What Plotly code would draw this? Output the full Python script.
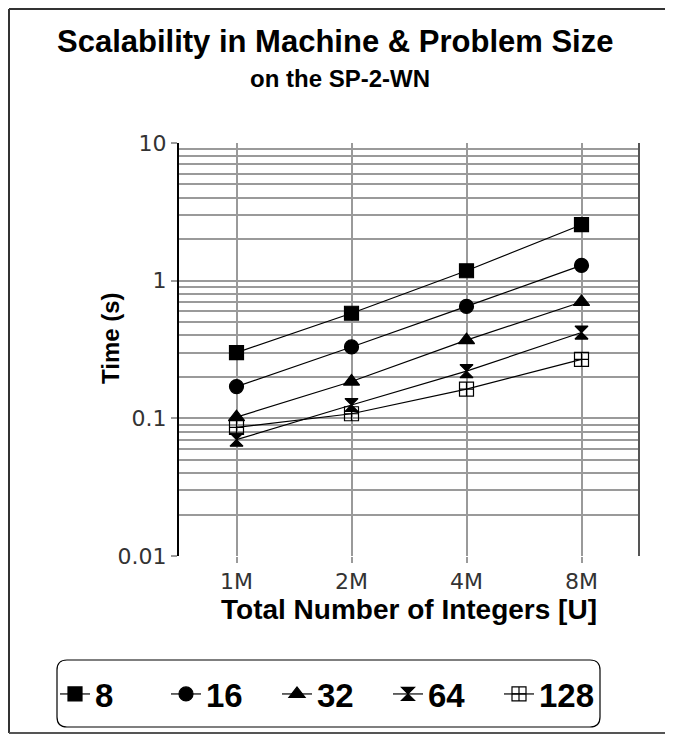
import plotly.graph_objects as go

categories = ["1M", "2M", "4M", "8M"]
series_names = ["8", "16", "32", "64", "128"]
t8 = [0.30, 0.58, 1.18, 2.55]
t16 = [0.17, 0.33, 0.65, 1.29]
t32 = [0.102, 0.185, 0.37, 0.70]
t64 = [0.070, 0.125, 0.22, 0.42]
t128 = [0.086, 0.108, 0.163, 0.268]
series_values = [t8, t16, t32, t64, t128]
symbols = ["square", "circle", "triangle-up", "hourglass", "square-cross-open"]
sizes = [14, 14, 14, 13, 14]
y_ticks = [0.01, 0.1, 1, 10]
y_tick_labels = ["0.01", "0.1", "1", "10"]

OFF = 8  # page body margin
W, H = 673 - OFF, 736 - OFF
L, R, T, B = 179, 639, 143, 556  # plot area in page pixels
FONT = "Liberation Sans, Arial, sans-serif"
TICKFONT = "DejaVu Sans, Liberation Sans, sans-serif"


def px(x):
    return (x - L) / (R - L)


def py(y):
    return (B - y) / (B - T)


fig = go.Figure()
for name, vals, sym, sz in zip(series_names, series_values, symbols, sizes):
    fig.add_trace(go.Scatter(
        x=categories, y=vals, name=name, mode="lines+markers",
        line=dict(color="black", width=1.2),
        marker=dict(symbol=sym, size=sz, color="black",
                    line=dict(color="black", width=1.2)),
    ))

minor_vals = []
for base in [0.01, 0.1, 1]:
    for k in range(2, 10):
        minor_vals.append(round(base * k, 4))

fig.update_layout(
    width=W, height=H,
    margin=dict(l=L - OFF, r=673 - R, t=T - OFF, b=736 - B),
    paper_bgcolor="white", plot_bgcolor="white",
    font=dict(family=FONT, color="black"),
    showlegend=True,
    legend=dict(
        orientation="h", x=px(55), y=py(694), xanchor="left", yanchor="middle",
        font=dict(family=FONT, size=33, color="black", weight="bold"),
        bgcolor="rgba(0,0,0,0)", borderwidth=0,
        tracegroupgap=0, entrywidth=66,
    ),
    xaxis=dict(
        type="category", range=[-0.5, 3.5],
        showgrid=True, gridcolor="#9a9a9a", gridwidth=1.5,
        ticks="outside", ticklen=6, tickcolor="#9a9a9a", tickwidth=1.5,
        showline=False, zeroline=False,
        tickfont=dict(family=TICKFONT, size=22, color="#333333"),
        title=dict(text="Total Number of Integers [U]", standoff=2,
                   font=dict(family=FONT, size=28, color="black", weight="bold")),
    ),
    yaxis=dict(
        type="log", range=[-2, 1],
        tickmode="array", tickvals=y_ticks, ticktext=y_tick_labels,
        showgrid=True, gridcolor="#9a9a9a", gridwidth=1.5,
        ticks="outside", ticklen=6, tickcolor="#9a9a9a", tickwidth=1.5,
        showline=True, linecolor="black", linewidth=2,
        zeroline=False,
        minor=dict(tickmode="array", tickvals=minor_vals, showgrid=True,
                   gridcolor="#9a9a9a", gridwidth=1.5, ticks=""),
        tickfont=dict(family=TICKFONT, size=22, color="#333333"),
    ),
)

# right plot border
fig.add_shape(type="line", xref="paper", yref="paper", x0=1, x1=1, y0=0, y1=1,
              line=dict(color="#555555", width=2))

# titles
fig.add_annotation(text="<b>Scalability in Machine &amp; Problem Size</b>",
                   xref="paper", yref="paper", x=px(335), y=py(42),
                   xanchor="center", yanchor="middle", showarrow=False,
                   font=dict(family=FONT, size=31, color="black"))
fig.add_annotation(text="<b>on the SP-2-WN</b>",
                   xref="paper", yref="paper", x=px(340), y=py(79),
                   xanchor="center", yanchor="middle", showarrow=False,
                   font=dict(family=FONT, size=24, color="black"))
fig.add_annotation(text="<b>Time (s)</b>", textangle=-90,
                   xref="paper", yref="paper", x=px(110), y=py(338),
                   xanchor="center", yanchor="middle", showarrow=False,
                   font=dict(family=FONT, size=24, color="black"))

# rounded legend box
x0, x1, y0, y1, r = 57, 600, 660, 727, 10
path = (f"M {px(x0 + r)} {py(y0)} L {px(x1 - r)} {py(y0)} "
        f"Q {px(x1)} {py(y0)} {px(x1)} {py(y0 + r)} "
        f"L {px(x1)} {py(y1 - r)} Q {px(x1)} {py(y1)} {px(x1 - r)} {py(y1)} "
        f"L {px(x0 + r)} {py(y1)} Q {px(x0)} {py(y1)} {px(x0)} {py(y1 - r)} "
        f"L {px(x0)} {py(y0 + r)} Q {px(x0)} {py(y0)} {px(x0 + r)} {py(y0)} Z")
fig.add_shape(type="path", xref="paper", yref="paper", path=path,
              line=dict(color="black", width=1.2))

# outer frame (left, top, bottom) at figure edges
ex0, ey0, ey1 = OFF + 1, OFF + 1, 733
fig.add_shape(type="line", xref="paper", yref="paper", x0=px(ex0), x1=px(ex0), y0=py(ey1), y1=py(ey0),
              line=dict(color="#333333", width=2))
fig.add_shape(type="line", xref="paper", yref="paper", x0=px(ex0), x1=px(673), y0=py(ey0), y1=py(ey0),
              line=dict(color="#333333", width=2))
fig.add_shape(type="line", xref="paper", yref="paper", x0=px(ex0), x1=px(673), y0=py(ey1), y1=py(ey1),
              line=dict(color="#555555", width=2))

fig.write_html("out.html")
